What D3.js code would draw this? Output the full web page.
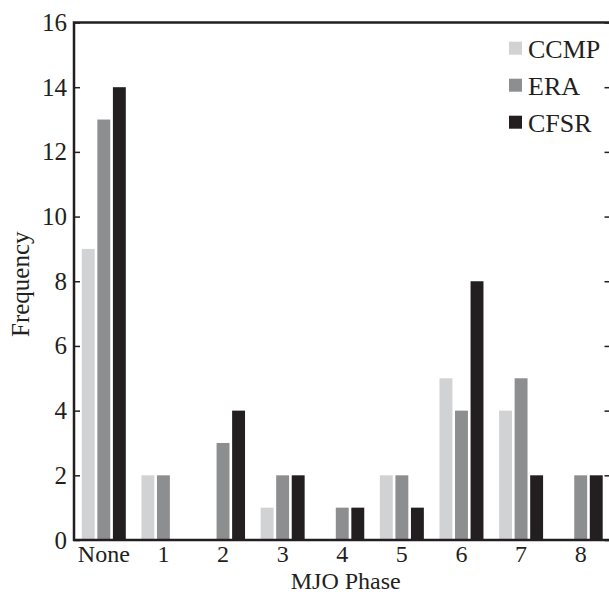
<!DOCTYPE html>
<html>
<head>
<meta charset="utf-8">
<script src="https://cdn.jsdelivr.net/npm/d3@7"></script>
<style>
  body { margin: 0; background: #fff; }
  text { font-family: "Liberation Serif", "Times New Roman", serif; fill: #231f20; }
</style>
</head>
<body>
<div id="app"></div>
<script>
// data
const phases = ["None", "1", "2", "3", "4", "5", "6", "7", "8"];
const seriesNames = ["CCMP", "ERA", "CFSR"];
const ccmp = [9, 2, 0, 1, 0, 2, 5, 4, 0];
const era  = [13, 2, 3, 2, 1, 2, 4, 5, 2];
const cfsr = [14, 0, 4, 2, 1, 1, 8, 2, 2];
const seriesColors = ["#d1d2d4", "#8d8e90", "#231f20"];
const yTicks = [0, 2, 4, 6, 8, 10, 12, 14, 16];

const width = 609, height = 594;
const margin = {top: 22.5, right: -1.5, bottom: 54, left: 74};
const innerW = width - margin.left - margin.right;
const innerH = height - margin.top - margin.bottom;

const rows = [];
phases.forEach((p, i) => {
  rows.push({phase: p, series: "CCMP", value: ccmp[i]});
  rows.push({phase: p, series: "ERA", value: era[i]});
  rows.push({phase: p, series: "CFSR", value: cfsr[i]});
});

let svg = d3.select("#app")
  .append("svg")
    .attr("width", width)
    .attr("height", height)
  .append("g")
    .attr("transform", "translate(" + margin.left + "," + margin.top + ")");

// scales
let x0 = d3.scaleBand()
  .domain(phases)
  .range([0, innerW])
  .padding(0);

let x1 = d3.scaleBand()
  .domain(seriesNames)
  .range([x0.bandwidth() / 2 - 22, x0.bandwidth() / 2 + 22])
  .paddingInner(0.17);

let y = d3.scaleLinear()
  .domain([0, 16])
  .range([innerH, 0]);

let color = d3.scaleOrdinal()
  .domain(seriesNames)
  .range(seriesColors);

// bars
svg.append("g").selectAll("rect")
  .data(rows)
  .enter()
  .append("rect")
    .attr("x", d => x0(d.phase) + x1(d.series))
    .attr("y", d => y(d.value))
    .attr("width", x1.bandwidth())
    .attr("height", d => innerH - y(d.value))
    .attr("fill", d => color(d.series));

// left axis (ticks point inward)
let left = svg.append("g")
  .call(d3.axisLeft(y).tickValues(yTicks).tickSize(-6).tickPadding(7));
left.select(".domain").remove();
left.selectAll(".tick line").attr("stroke", "#231f20").attr("stroke-width", 1.5);
left.selectAll("text").style("font-size", "25px").attr("fill", "#231f20");

// right ticks
let right = svg.append("g")
  .attr("transform", "translate(" + innerW + ",0)")
  .call(d3.axisRight(y).tickValues(yTicks).tickSize(-6).tickFormat(""));
right.select(".domain").remove();
right.selectAll(".tick line").attr("stroke", "#231f20").attr("stroke-width", 1.5);

// bottom axis
let bottom = svg.append("g")
  .attr("transform", "translate(0," + innerH + ")")
  .call(d3.axisBottom(x0).tickSize(0).tickPadding(5));
bottom.select(".domain").remove();
bottom.selectAll("text").style("font-size", "24px").attr("fill", "#231f20");

// frame
svg.append("rect")
  .attr("x", 0).attr("y", 0)
  .attr("width", innerW).attr("height", innerH)
  .attr("fill", "none")
  .attr("stroke", "#231f20")
  .attr("stroke-width", 2.5);

// axis titles
svg.append("text")
  .attr("x", innerW / 2 + 3.5)
  .attr("y", innerH + 48.5)
  .attr("text-anchor", "middle")
  .style("font-size", "24px")
  .text("MJO Phase");

svg.append("text")
  .attr("transform", "translate(" + (-45.5) + "," + (innerH / 2 + 3) + ") rotate(-90)")
  .attr("text-anchor", "middle")
  .style("font-size", "25px")
  .text("Frequency");

// legend
let legend = svg.append("g")
  .attr("transform", "translate(" + (509 - margin.left) + "," + (41.7 - margin.top) + ")");

let item = legend.selectAll("g")
  .data(seriesNames)
  .enter()
  .append("g")
    .attr("transform", (d, i) => "translate(0," + i * 37 + ")");

item.append("rect")
  .attr("width", 13).attr("height", 13)
  .attr("fill", d => color(d));

item.append("text")
  .attr("x", 19)
  .attr("y", 16.5)
  .style("font-size", "26px")
  .text(d => d);
</script>
</body>
</html>
